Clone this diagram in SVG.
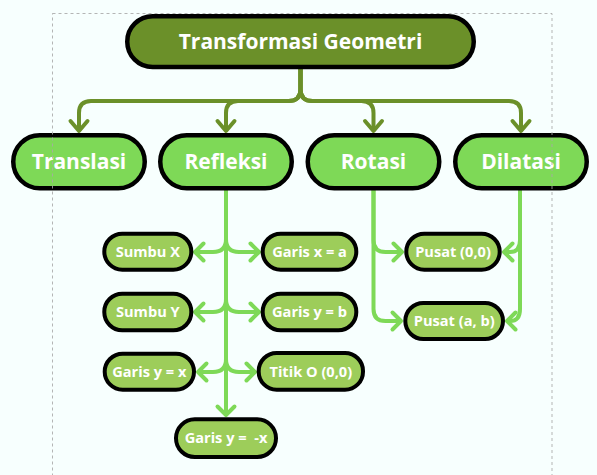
<svg xmlns="http://www.w3.org/2000/svg" width="597" height="475" viewBox="0 0 597 475">
<defs>
<style>
.big{fill:#fff;font-family:"Open Sans","Liberation Sans",sans-serif;font-weight:bold;font-size:21px;text-anchor:middle}
.sm{fill:#fff;font-family:"Open Sans","Liberation Sans",sans-serif;font-weight:bold;font-size:14.6px;text-anchor:middle;white-space:pre}
.root{fill:#6b9029;stroke:#000;stroke-width:4.5}
.child{fill:#7ed957;stroke:#000;stroke-width:4.5}
.leaf{fill:#9dcd5a;stroke:#000;stroke-width:4}
.c1{fill:none;stroke:#6b9029;stroke-width:4;marker-end:url(#m1)}
.c2{fill:none;stroke:#7ed957;stroke-width:4;marker-end:url(#m2)}
</style>
<marker id="m1" markerUnits="userSpaceOnUse" markerWidth="30" markerHeight="30" viewBox="-15 -15 30 30" refX="0" refY="0" orient="auto" overflow="visible">
<path d="M-10,-8.5 L0,0 L-10,8.5" fill="none" stroke="#6b9029" stroke-width="4" stroke-linecap="round" stroke-linejoin="round"/>
</marker>
<marker id="m2" markerUnits="userSpaceOnUse" markerWidth="30" markerHeight="30" viewBox="-15 -15 30 30" refX="0" refY="0" orient="auto" overflow="visible">
<path d="M-8.5,-8.5 L0,0 L-8.5,8.5" fill="none" stroke="#7ed957" stroke-width="4" stroke-linecap="round" stroke-linejoin="round"/>
</marker>
</defs>
<rect x="0" y="0" width="597" height="475" fill="#f7fffe"/>
<g id="connectors">
<path class="c1" d="M300.5,69 L300.5,89 Q300.5,101 288.5,101 L91,101 Q79,101 79,113 L79,131"/>
<path class="c1" d="M300.5,69 L300.5,89 Q300.5,101 288.5,101 L238,101 Q226,101 226,113 L226,131"/>
<path class="c1" d="M300.5,69 L300.5,89 Q300.5,101 312.5,101 L361.5,101 Q373.5,101 373.5,113 L373.5,131"/>
<path class="c1" d="M300.5,69 L300.5,89 Q300.5,101 312.5,101 L509,101 Q521,101 521,113 L521,131"/>
<path class="c2" d="M226,190 L226,415"/>
<path class="c2" d="M226,239 Q226,252 213,252 L195,252"/>
<path class="c2" d="M226,239 Q226,252 239,252 L259,252"/>
<path class="c2" d="M226,299 Q226,312 213,312 L195,312"/>
<path class="c2" d="M226,299 Q226,312 239,312 L259,312"/>
<path class="c2" d="M226,359 Q226,372 213,372 L198,372"/>
<path class="c2" d="M226,359 Q226,372 239,372 L255,372"/>
<path class="c2" d="M373.5,190 L373.5,240 Q373.5,252 385.5,252 L402,252"/>
<path class="c2" d="M373.5,190 L373.5,309 Q373.5,321 385.5,321 L401,321"/>
<path class="c2" d="M520,190 L520,240 Q520,252 510,252 L504,252"/>
<path class="c2" d="M520,190 L520,309 Q520,321 510,321 L507,321"/>
</g>
<g id="root">
<rect class="root" x="127.25" y="16.25" width="346.5" height="50.75" rx="25.4"/>
<text class="big" x="300.5" y="48.5">Transformasi Geometri</text>
</g>
<g id="translasi">
<rect class="child" x="13.25" y="135.25" width="131.5" height="53" rx="26.5"/>
<text class="big" x="79" y="168.5">Translasi</text>
</g>
<g id="refleksi">
<rect class="child" x="160.25" y="135.25" width="131.5" height="53" rx="26.5"/>
<text class="big" x="226" y="168.5">Refleksi</text>
</g>
<g id="rotasi">
<rect class="child" x="307.75" y="135.25" width="131.5" height="53" rx="26.5"/>
<text class="big" x="373.5" y="168.5">Rotasi</text>
</g>
<g id="dilatasi">
<rect class="child" x="455.25" y="135.25" width="131.5" height="53" rx="26.5"/>
<text class="big" x="521" y="168.5">Dilatasi</text>
</g>
<g id="sumbu-x">
<rect class="leaf" x="104.3" y="233.7" width="87" height="36" rx="18"/>
<text class="sm" x="147.8" y="257">Sumbu X</text>
</g>
<g id="garis-x-a">
<rect class="leaf" x="262.7" y="233.7" width="93.6" height="36" rx="18"/>
<text class="sm" x="309.5" y="257">Garis x = a</text>
</g>
<g id="sumbu-y">
<rect class="leaf" x="104.3" y="293.7" width="87" height="36.6" rx="18"/>
<text class="sm" x="147.8" y="317.2">Sumbu Y</text>
</g>
<g id="garis-y-b">
<rect class="leaf" x="262.7" y="293.7" width="93.6" height="36.6" rx="18"/>
<text class="sm" x="309.5" y="317.2">Garis y = b</text>
</g>
<g id="garis-y-x">
<rect class="leaf" x="104.7" y="353.7" width="89.3" height="36" rx="18"/>
<text class="sm" x="149.3" y="377">Garis y = x</text>
</g>
<g id="titik-o">
<rect class="leaf" x="258.7" y="353" width="104.3" height="36.7" rx="18"/>
<text class="sm" x="310.8" y="376.6">Titik O (0,0)</text>
</g>
<g id="garis-y-minx">
<rect class="leaf" x="176" y="419.3" width="100" height="37.7" rx="18.8"/>
<text class="sm" x="226" y="443.3" xml:space="preserve">Garis y =  -x</text>
</g>
<g id="pusat-00">
<rect class="leaf" x="406.3" y="233.7" width="93.4" height="36" rx="18"/>
<text class="sm" x="453" y="257">Pusat (0,0)</text>
</g>
<g id="pusat-ab">
<rect class="leaf" x="405.3" y="303" width="97.7" height="36" rx="18"/>
<text class="sm" x="454.2" y="326.3">Pusat (a, b)</text>
</g>
<rect x="52.5" y="13.5" width="499.5" height="470" fill="none" stroke="#a8a8a8" stroke-width="1" stroke-dasharray="3,3" opacity="0.85"/>
</svg>
